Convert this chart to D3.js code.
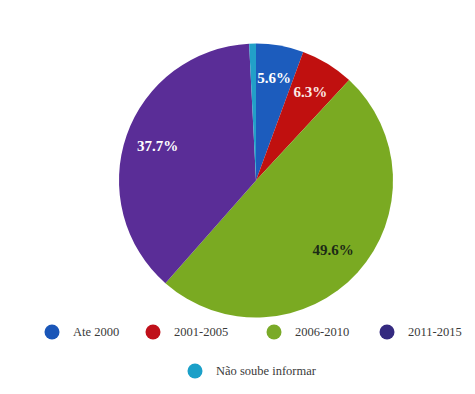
<!DOCTYPE html>
<html>
<head>
<meta charset="utf-8">
<script src="https://cdn.jsdelivr.net/npm/d3@7"></script>
<style>
  html, body { margin: 0; padding: 0; background: #ffffff; }
  svg { display: block; }
  .serif { font-family: "Liberation Serif", serif; }
</style>
</head>
<body>
<svg id="chart" width="475" height="394"></svg>
<script>
// Period of construction, share of responses
const categories = ["Ate 2000", "2001-2005", "2006-2010", "2011-2015", "Não soube informar"];
const values = [5.6, 6.3, 49.6, 37.7, 0.8];
const labels = ["5.6%", "6.3%", "49.6%", "37.7%", ""];
const sliceColors = ["#1c5cbd", "#c0100f", "#7aaa22", "#5a2d97", "#22a0c8"];
const legendColors = ["#1a56b8", "#c0101a", "#7aaa28", "#352a80", "#1ba0c8"];
const labelColors = ["#ffffff", "#fbe9e4", "#1d2a16", "#ffffff", "#ffffff"];

const svg = d3.select("#chart");
const cx = 256, cy = 180.5, r = 137;

const pie = d3.pie().value(d => d).sort(null);
const arcs = pie(values);
const arc = d3.arc().innerRadius(0).outerRadius(r);
const labelArc = d3.arc().innerRadius(r * 0.76).outerRadius(r * 0.76);

const g = svg.append("g").attr("transform", `translate(${cx},${cy})`);

g.selectAll("path.slice")
  .data(arcs)
  .join("path")
  .attr("class", "slice")
  .attr("d", arc)
  .attr("fill", (d, i) => sliceColors[i]);

g.selectAll("text.val")
  .data(arcs)
  .join("text")
  .attr("class", "val serif")
  .attr("transform", d => `translate(${labelArc.centroid(d)})`)
  .attr("text-anchor", "middle")
  .attr("dominant-baseline", "central")
  .attr("font-size", 15)
  .attr("font-weight", 600)
  .attr("fill", (d, i) => labelColors[i])
  .text((d, i) => labels[i]);

// Legend: four entries on the first row, one centred below
const legendPos = [
  { x: 52, y: 332 },
  { x: 153, y: 332 },
  { x: 274, y: 332 },
  { x: 387, y: 332 },
  { x: 195, y: 371 }
];

const legend = svg.selectAll("g.legend")
  .data(categories)
  .join("g")
  .attr("class", "legend")
  .attr("transform", (d, i) => `translate(${legendPos[i].x},${legendPos[i].y})`);

legend.append("circle")
  .attr("r", 7.5)
  .attr("fill", (d, i) => legendColors[i]);

legend.append("text")
  .attr("class", "serif")
  .attr("x", 21)
  .attr("dominant-baseline", "central")
  .attr("font-size", 12.5)
  .attr("fill", "#3a3a3a")
  .text(d => d);
</script>
</body>
</html>
